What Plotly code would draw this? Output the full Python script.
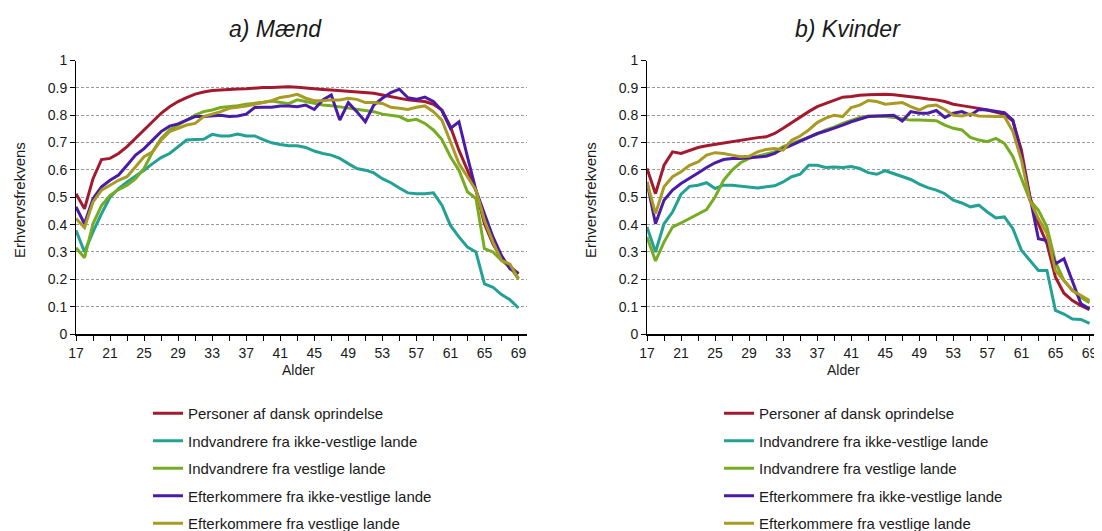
"""
Erhvervsfrekvens efter alder og herkomst, mænd og kvinder.
"""

import plotly.graph_objects as go

# ── Data ─────────────────────────────────────────────────────────────────────
AGES = list(range(17, 70))

SERIES_NAMES = [
    "Personer af dansk oprindelse",
    "Indvandrere fra ikke-vestlige lande",
    "Indvandrere fra vestlige lande",
    "Efterkommere fra ikke-vestlige lande",
    "Efterkommere fra vestlige lande",
]

# a) Mænd
men_dansk = [
    0.513, 0.458, 0.568, 0.638, 0.642, 0.660, 0.685, 0.715, 0.746, 0.776,
    0.807, 0.831, 0.850, 0.864, 0.877, 0.885, 0.890, 0.892, 0.895, 0.896,
    0.897, 0.900, 0.901, 0.901, 0.902, 0.904, 0.902, 0.899, 0.895, 0.894,
    0.892, 0.890, 0.886, 0.884, 0.883, 0.880, 0.874, 0.868, 0.862, 0.856,
    0.853, 0.850, 0.840, 0.819, 0.758, 0.672, 0.599, 0.526, 0.403, 0.330,
    0.275, 0.247, 0.220,
]
men_indv_ikke_vest = [
    0.379, 0.300, 0.373, 0.440, 0.500, 0.532, 0.556, 0.577, 0.599, 0.623,
    0.645, 0.660, 0.685, 0.709, 0.711, 0.712, 0.730, 0.724, 0.724, 0.731,
    0.724, 0.724, 0.711, 0.699, 0.693, 0.688, 0.688, 0.682, 0.669, 0.660,
    0.654, 0.642, 0.623, 0.605, 0.599, 0.589, 0.568, 0.553, 0.534, 0.516,
    0.513, 0.513, 0.516, 0.471, 0.397, 0.355, 0.318, 0.300, 0.183, 0.171,
    0.144, 0.125, 0.095,
]
men_indv_vest = [
    0.315, 0.279, 0.403, 0.470, 0.507, 0.528, 0.544, 0.568, 0.605, 0.666,
    0.715, 0.746, 0.764, 0.782, 0.800, 0.813, 0.819, 0.828, 0.831, 0.835,
    0.840, 0.843, 0.847, 0.852, 0.848, 0.842, 0.856, 0.850, 0.843, 0.837,
    0.835, 0.831, 0.825, 0.821, 0.819, 0.813, 0.804, 0.800, 0.795, 0.780,
    0.785, 0.770, 0.746, 0.711, 0.648, 0.599, 0.520, 0.495, 0.312, 0.300,
    0.269, 0.244, 0.202,
]
men_efter_ikke_vest = [
    0.465, 0.403, 0.495, 0.538, 0.562, 0.581, 0.617, 0.654, 0.678, 0.709,
    0.740, 0.760, 0.768, 0.782, 0.795, 0.795, 0.798, 0.800, 0.795, 0.797,
    0.804, 0.828, 0.829, 0.829, 0.834, 0.834, 0.831, 0.837, 0.821, 0.856,
    0.874, 0.782, 0.846, 0.813, 0.776, 0.837, 0.862, 0.883, 0.895, 0.864,
    0.858, 0.866, 0.850, 0.817, 0.752, 0.776, 0.648, 0.526, 0.440, 0.355,
    0.287, 0.238, 0.222,
]
men_efter_vest = [
    0.422, 0.389, 0.483, 0.526, 0.544, 0.562, 0.575, 0.611, 0.648, 0.666,
    0.709, 0.740, 0.752, 0.764, 0.770, 0.795, 0.804, 0.813, 0.825, 0.829,
    0.834, 0.840, 0.846, 0.853, 0.865, 0.869, 0.876, 0.862, 0.853, 0.853,
    0.856, 0.856, 0.862, 0.858, 0.846, 0.846, 0.843, 0.829, 0.825, 0.821,
    0.829, 0.834, 0.813, 0.782, 0.703, 0.623, 0.575, 0.526, 0.416, 0.336,
    0.269, 0.255, 0.202,
]

# b) Kvinder
women_dansk = [
    0.605, 0.513, 0.617, 0.666, 0.660, 0.672, 0.682, 0.688, 0.693, 0.697,
    0.703, 0.709, 0.713, 0.718, 0.721, 0.733, 0.752, 0.773, 0.795, 0.813,
    0.831, 0.843, 0.856, 0.866, 0.868, 0.873, 0.875, 0.877, 0.877, 0.875,
    0.872, 0.868, 0.864, 0.859, 0.856, 0.850, 0.840, 0.835, 0.831, 0.825,
    0.819, 0.810, 0.803, 0.779, 0.672, 0.501, 0.403, 0.330, 0.208, 0.149,
    0.122, 0.104, 0.089,
]
women_indv_ikke_vest = [
    0.391, 0.300, 0.403, 0.446, 0.511, 0.540, 0.544, 0.553, 0.532, 0.544,
    0.544, 0.540, 0.538, 0.534, 0.538, 0.542, 0.556, 0.575, 0.584, 0.617,
    0.617, 0.609, 0.611, 0.609, 0.612, 0.605, 0.590, 0.584, 0.597, 0.587,
    0.577, 0.565, 0.548, 0.535, 0.526, 0.513, 0.489, 0.479, 0.465, 0.471,
    0.446, 0.424, 0.428, 0.385, 0.306, 0.269, 0.232, 0.232, 0.086, 0.073,
    0.055, 0.053, 0.039,
]
women_indv_vest = [
    0.355, 0.267, 0.336, 0.391, 0.406, 0.422, 0.440, 0.455, 0.501, 0.562,
    0.599, 0.626, 0.642, 0.650, 0.660, 0.666, 0.685, 0.697, 0.709, 0.719,
    0.731, 0.746, 0.756, 0.770, 0.780, 0.792, 0.797, 0.797, 0.795, 0.792,
    0.786, 0.782, 0.782, 0.782, 0.780, 0.764, 0.752, 0.746, 0.719, 0.709,
    0.703, 0.715, 0.697, 0.648, 0.568, 0.489, 0.452, 0.391, 0.263, 0.196,
    0.159, 0.134, 0.114,
]
women_efter_ikke_vest = [
    0.556, 0.403, 0.489, 0.526, 0.550, 0.568, 0.589, 0.609, 0.626, 0.638,
    0.642, 0.642, 0.645, 0.648, 0.650, 0.660, 0.678, 0.691, 0.706, 0.721,
    0.733, 0.742, 0.752, 0.764, 0.776, 0.785, 0.795, 0.797, 0.798, 0.800,
    0.779, 0.813, 0.807, 0.807, 0.817, 0.792, 0.807, 0.813, 0.800, 0.821,
    0.819, 0.815, 0.809, 0.782, 0.648, 0.501, 0.348, 0.342, 0.257, 0.275,
    0.196, 0.110, 0.092,
]
women_efter_vest = [
    0.556, 0.440, 0.538, 0.575, 0.593, 0.617, 0.629, 0.654, 0.663, 0.660,
    0.654, 0.648, 0.650, 0.666, 0.675, 0.678, 0.672, 0.709, 0.724, 0.746,
    0.773, 0.789, 0.800, 0.795, 0.828, 0.837, 0.854, 0.850, 0.840, 0.843,
    0.846, 0.831, 0.819, 0.834, 0.837, 0.821, 0.800, 0.797, 0.804, 0.797,
    0.795, 0.795, 0.795, 0.740, 0.636, 0.489, 0.422, 0.367, 0.232, 0.196,
    0.159, 0.141, 0.122,
]

MEN = [men_dansk, men_indv_ikke_vest, men_indv_vest, men_efter_ikke_vest, men_efter_vest]
WOMEN = [women_dansk, women_indv_ikke_vest, women_indv_vest, women_efter_ikke_vest, women_efter_vest]

X_TICKS = list(range(17, 70, 2))
X_TICK_TEXT = [str(a) if (a - 17) % 4 == 0 else "" for a in X_TICKS]
Y_TICKS = [i / 10 for i in range(11)]
Y_TICK_TEXT = ["0"] + [f"{v:.1f}" for v in Y_TICKS[1:-1]] + ["1"]

# ── Style ────────────────────────────────────────────────────────────────────
COLORS = ["#A31A2E", "#22A194", "#76AC22", "#4A1BA6", "#A89A22"]
FONT = "Liberation Sans, Arial, sans-serif"
TEXT_COLOR = "#1a1a1a"
GRID_COLOR = "#9a9a9a"

# the page body has an 8px margin, so the figure is shrunk and shifted by it
PAGE_PAD = 8
W, H = 1102 - PAGE_PAD, 531 - PAGE_PAD


def px_x(p):
    return (p - PAGE_PAD) / W


def px_y(p):
    return 1 - (p - PAGE_PAD) / H


fig = go.Figure()

for i, (name, color) in enumerate(zip(SERIES_NAMES, COLORS)):
    fig.add_trace(go.Scatter(
        x=AGES, y=MEN[i], mode="lines", name=name,
        line=dict(color=color, width=3),
        xaxis="x", yaxis="y", legend="legend", legendgroup=f"m{i}",
    ))
for i, (name, color) in enumerate(zip(SERIES_NAMES, COLORS)):
    fig.add_trace(go.Scatter(
        x=AGES, y=WOMEN[i], mode="lines", name=name,
        line=dict(color=color, width=3),
        xaxis="x2", yaxis="y2", legend="legend2", legendgroup=f"k{i}",
    ))

x_common = dict(
    range=[17, 70], tickvals=X_TICKS, ticktext=X_TICK_TEXT,
    ticks="outside", ticklen=5, tickcolor="black", tickwidth=1,
    showline=True, linecolor="black", linewidth=2,
    showgrid=False, zeroline=False,
    tickfont=dict(size=14, color=TEXT_COLOR),
)
y_common = dict(
    range=[0, 1], tickvals=Y_TICKS, ticktext=Y_TICK_TEXT,
    ticks="outside", ticklen=5, tickcolor="black", tickwidth=1,
    showline=True, linecolor="black", linewidth=1,
    showgrid=True, gridcolor=GRID_COLOR, gridwidth=1, griddash="3px,2px",
    zeroline=False,
    tickfont=dict(size=14, color=TEXT_COLOR),
    domain=[px_y(334), px_y(60.5)],
)

legend_common = dict(
    xanchor="left", yanchor="top", y=px_y(397),
    font=dict(size=15, color=TEXT_COLOR, family=FONT),
    bgcolor="rgba(0,0,0,0)", tracegroupgap=5,
)

fig.update_layout(
    width=W, height=H,
    margin=dict(l=0, r=0, t=0, b=0, autoexpand=False),
    paper_bgcolor="white", plot_bgcolor="white",
    font=dict(family=FONT, color=TEXT_COLOR),
    xaxis=dict(domain=[px_x(76), px_x(527)], anchor="y", **x_common),
    yaxis=dict(anchor="x", **y_common),
    xaxis2=dict(domain=[px_x(647), px_x(1098)], anchor="y2", **x_common),
    yaxis2=dict(anchor="x2", **y_common),
    legend=dict(x=px_x(148), **legend_common),
    legend2=dict(x=px_x(719), **legend_common),
    showlegend=True,
)

annotations = [
    ("a) Mænd", 275, 29, 23, True, 0),
    ("b) Kvinder", 848, 29, 23, True, 0),
    ("Alder", 298, 370, 14, False, 0),
    ("Alder", 843, 370, 14, False, 0),
    ("Erhvervsfrekvens", 19, 200, 15, False, -90),
    ("Erhvervsfrekvens", 590, 200, 15, False, -90),
]
for text, x, y, size, italic, angle in annotations:
    fig.add_annotation(
        text=f"<i>{text}</i>" if italic else text,
        x=px_x(x), y=px_y(y), xref="paper", yref="paper",
        xanchor="center", yanchor="middle", showarrow=False,
        textangle=angle, font=dict(size=size, color=TEXT_COLOR, family=FONT),
    )

fig.write_html("out.html")
